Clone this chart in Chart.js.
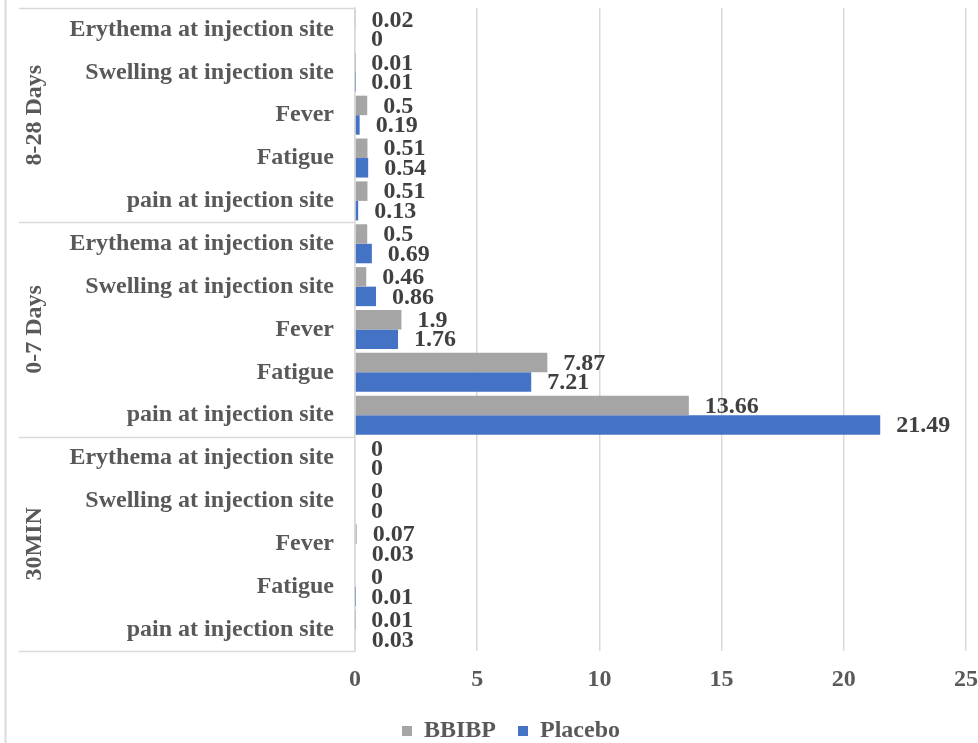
<!DOCTYPE html>
<html>
<head>
<meta charset="utf-8">
<script src="https://cdn.jsdelivr.net/npm/chart.js@4.4.1/dist/chart.umd.min.js"></script>
<style>
  html, body { margin: 0; padding: 0; background: #ffffff; overflow: hidden; }
  #wrap { width: 978px; height: 743px; position: relative; }
</style>
</head>
<body>
<div id="wrap"><canvas id="chart" width="978" height="743"></canvas></div>
<script>
// Period groups, top to bottom
const groups = ['8-28 Days', '0-7 Days', '30MIN'];
// Symptoms listed within each period, top to bottom
const symptoms = ['Erythema at injection site', 'Swelling at injection site', 'Fever', 'Fatigue', 'pain at injection site'];
const categories = [].concat(symptoms, symptoms, symptoms);

// Incidence (%) per symptom, same order as categories
const bbibp   = [0.02, 0.01, 0.5, 0.51, 0.51,   0.5, 0.46, 1.9, 7.87, 13.66,   0, 0, 0.07, 0, 0.01];
const placebo = [0,    0.01, 0.19, 0.54, 0.13,  0.69, 0.86, 1.76, 7.21, 21.49,  0, 0, 0.03, 0.01, 0.03];

const xTicks = [0, 5, 10, 15, 20, 25];

const FONT = 'Liberation Serif, Times New Roman, serif';
const TEXT = '#595959';
const LINE = '#D9D9D9';

// Group labels, separators, frame edge and value labels
const decorations = {
  id: 'decorations',
  afterLayout(chart) {
    // nudge legend slightly right of centre
    const lg = chart.legend;
    if (lg) { lg.left += 28; lg.right += 28; }
  },
  afterDraw(chart) {
    const ctx = chart.ctx;
    const y = chart.scales.y;
    const area = chart.chartArea;
    ctx.save();

    // left frame edge
    ctx.strokeStyle = LINE;
    ctx.lineWidth = 2;
    ctx.beginPath();
    ctx.moveTo(5.5, 0);
    ctx.lineTo(5.5, chart.height);
    ctx.stroke();

    // group separators in the label column
    ctx.lineWidth = 1.5;
    for (let g = 0; g <= groups.length; g++) {
      const py = Math.round(y.getPixelForValue(g * symptoms.length - 0.5)) + 0.5;
      ctx.beginPath();
      ctx.moveTo(19, py);
      ctx.lineTo(area.left, py);
      ctx.stroke();
    }

    // rotated group names
    ctx.fillStyle = TEXT;
    ctx.font = 'bold 24px ' + FONT;
    ctx.textAlign = 'center';
    ctx.textBaseline = 'middle';
    groups.forEach((name, g) => {
      const cy = y.getPixelForValue(g * symptoms.length + (symptoms.length - 1) / 2);
      ctx.save();
      ctx.translate(35, cy);
      ctx.rotate(-Math.PI / 2);
      ctx.fillText(name, 0, 0);
      ctx.restore();
    });

    // value labels at bar ends
    ctx.fillStyle = '#404040';
    ctx.font = 'bold 24px ' + FONT;
    ctx.textAlign = 'left';
    ctx.textBaseline = 'middle';
    chart.data.datasets.forEach((ds, di) => {
      const meta = chart.getDatasetMeta(di);
      meta.data.forEach((bar, i) => {
        ctx.fillText(String(ds.data[i]), bar.x + 16, bar.y + 1);
      });
    });
    ctx.restore();
  }
};

new Chart(document.getElementById('chart'), {
  type: 'bar',
  data: {
    labels: categories,
    datasets: [
      { label: 'BBIBP', data: bbibp, backgroundColor: '#A5A5A5', borderWidth: 0, categoryPercentage: 0.91, barPercentage: 1 },
      { label: 'Placebo', data: placebo, backgroundColor: '#4472C4', borderWidth: 0, categoryPercentage: 0.91, barPercentage: 1 }
    ]
  },
  options: {
    indexAxis: 'y',
    responsive: false,
    animation: false,
    layout: { padding: { top: 8, right: 12, bottom: -10, left: 0 } },
    scales: {
      x: {
        min: 0,
        max: 25,
        afterBuildTicks(scale) { scale.ticks = xTicks.map(v => ({ value: v })); },
        afterFit(scale) { scale.height = 46; scale.paddingLeft = 0; scale.paddingRight = 0; },
        grid: { color: LINE, lineWidth: 1.5, drawTicks: false },
        border: { display: false },
        ticks: { padding: 14, color: TEXT, font: { family: FONT, size: 24, weight: 'bold' } }
      },
      y: {
        afterFit(scale) { scale.width = 355; scale.paddingTop = 0; scale.paddingBottom = 0; },
        grid: { display: false, drawTicks: false },
        border: { display: true, color: LINE, width: 1.5 },
        ticks: { autoSkip: false, padding: 21, color: TEXT, font: { family: FONT, size: 24, weight: 'bold' } }
      }
    },
    plugins: {
      legend: {
        position: 'bottom',
        labels: { boxWidth: 10, boxHeight: 10, padding: 22, color: TEXT, font: { family: FONT, size: 24, weight: 'bold' } }
      },
      tooltip: { enabled: false }
    }
  },
  plugins: [decorations]
});
</script>
</body>
</html>
